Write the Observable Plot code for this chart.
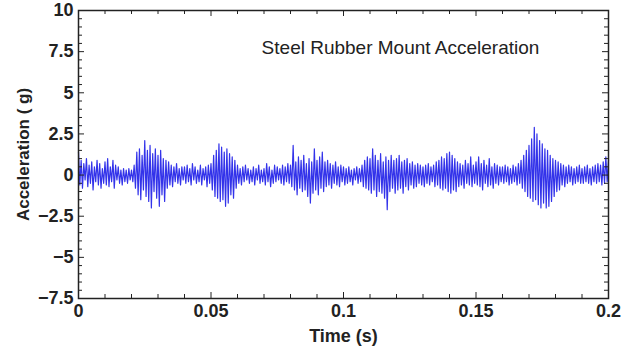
<!DOCTYPE html>
<html>
<head>
<meta charset="utf-8">
<script src="https://cdn.jsdelivr.net/npm/d3@7"></script>
<script src="https://cdn.jsdelivr.net/npm/@observablehq/plot@0.6"></script>
<style>
  html, body { margin: 0; padding: 0; background: #fff; }
</style>
</head>
<body>
<div id="chart"></div>
<script>
// ---- data ----
const titleText = "Steel Rubber Mount Acceleration";
const xLabel = "Time (s)";
const yLabel = "Acceleration ( g)";
const sampleStep = 0.0005; // s between samples
const accel = [
  // 0.00 - 0.0095
  1.4, -0.6, 0.9, -0.8, 0.7, -0.3, 1.0, -0.7, 0.6, -0.5, 0.8, -0.9, 0.5, -0.4, 0.9, -0.6, 0.7, -0.8, 0.4, -0.5,
  // 0.01
  0.8, -0.6, 1.0, -0.7, 0.5, -0.4, 0.9, -0.8, 0.6, -0.3, 0.5, -0.5, 0.3, -0.6, 0.4, -0.4, 0.3, -0.5, 0.4, -0.3,
  // 0.02
  0.3, -0.4, 0.6, -0.8, 1.4, -1.2, 1.6, -1.5, 1.2, -0.9, 2.1, -1.3, 1.5, -1.6, 1.8, -2.0, 1.3, -1.0, 1.6, -1.4,
  // 0.03
  1.2, -1.9, 1.5, -1.2, 1.0, -1.6, 0.9, -0.8, 0.8, -0.6, 0.6, -0.7, 0.5, -0.4, 0.7, -0.5, 0.4, -0.6, 0.5, -0.3,
  // 0.04
  0.5, -0.5, 0.6, -0.4, 0.4, -0.6, 0.7, -0.3, 0.5, -0.5, 0.3, -0.4, 0.6, -0.6, 0.4, -0.3, 0.5, -0.7, 0.6, -0.5,
  // 0.05
  0.7, -0.9, 1.2, -1.3, 1.5, -1.4, 1.9, -1.6, 1.7, -1.5, 1.4, -1.9, 1.6, -1.7, 1.3, -1.2, 1.1, -1.4, 0.9, -0.8,
  // 0.06
  0.6, -0.5, 0.4, -0.6, 0.5, -0.4, 0.6, -0.3, 0.4, -0.5, 0.3, -0.4, 0.5, -0.6, 0.4, -0.3, 0.6, -0.5, 0.3, -0.4,
  // 0.07
  0.4, -0.6, 0.7, -0.4, 0.5, -0.7, 0.3, -0.5, 0.6, -0.4, 0.5, -0.3, 0.4, -0.5, 0.6, -0.6, 0.5, -0.4, 0.7, -0.5,
  // 0.08
  0.6, -0.7, 1.8, -0.9, 0.8, -1.2, 1.1, -0.8, 0.9, -1.0, 1.2, -0.9, 0.7, -1.3, 1.0, -1.7, 0.8, -1.1, 1.6, -0.9,
  // 0.09
  0.9, -1.2, 1.1, -0.8, 1.4, -1.0, 0.8, -0.7, 0.9, -0.6, 0.7, -0.8, 0.6, -0.5, 0.8, -0.6, 0.5, -0.7, 0.6, -0.4,
  // 0.10
  0.5, -0.6, 0.4, -0.5, 0.5, -0.4, 0.3, -0.6, 0.4, -0.3, 0.5, -0.5, 0.4, -0.4, 0.6, -0.7, 0.9, -0.8, 1.1, -0.9,
  // 0.11
  1.0, -1.1, 1.6, -0.9, 1.2, -1.3, 0.9, -1.0, 1.3, -1.1, 0.8, -1.4, 1.1, -2.1, 0.9, -1.0, 1.2, -0.8, 0.9, -1.1,
  // 0.12
  1.0, -0.9, 1.2, -0.8, 0.8, -1.1, 0.9, -0.7, 1.0, -0.9, 0.7, -0.6, 0.8, -0.8, 0.6, -0.7, 0.7, -0.5, 0.6, -0.6,
  // 0.13
  0.5, -0.7, 0.6, -0.5, 0.7, -0.6, 0.5, -0.4, 0.6, -0.7, 0.8, -0.6, 0.9, -0.8, 1.1, -0.9, 1.0, -0.8, 1.3, -1.0,
  // 0.14
  1.4, -1.1, 1.2, -0.9, 1.0, -1.0, 0.8, -0.7, 0.7, -0.6, 0.6, -0.8, 0.9, -0.5, 0.7, -0.6, 1.1, -0.7, 0.6, -0.5,
  // 0.15
  0.8, -0.6, 1.1, -0.7, 0.7, -0.9, 0.9, -0.5, 0.6, -0.7, 1.0, -0.6, 0.5, -0.8, 0.7, -0.5, 0.6, -0.6, 0.5, -0.4,
  // 0.16
  0.5, -0.5, 0.6, -0.4, 0.5, -0.6, 0.4, -0.5, 0.6, -0.4, 0.5, -0.6, 0.7, -0.5, 0.9, -0.8, 1.2, -1.0, 1.5, -1.3,
  // 0.17
  1.8, -1.4, 2.2, -1.6, 2.9, -1.5, 2.5, -1.8, 2.1, -2.0, 1.9, -1.7, 1.6, -2.0, 1.5, -1.9, 1.2, -1.6, 1.0, -1.3,
  // 0.18
  0.9, -1.0, 0.8, -0.9, 0.7, -0.6, 0.6, -0.7, 0.5, -0.5, 0.6, -0.4, 0.5, -0.6, 0.4, -0.5, 0.5, -0.4, 0.6, -0.5,
  // 0.19 - 0.20
  0.4, -0.5, 0.5, -0.4, 0.6, -0.5, 0.4, -0.6, 0.5, -0.4, 0.6, -0.5, 0.7, -0.4, 0.6, -0.6, 0.8, -0.5, 1.1, -0.4, 0.9
];
const xMajorTicks = [0, 0.05, 0.1, 0.15, 0.2];
const xTickLabels = ["0", "0.05", "0.1", "0.15", "0.2"];
const xMinorTicks = [0.01, 0.02, 0.03, 0.04, 0.06, 0.07, 0.08, 0.09, 0.11, 0.12, 0.13, 0.14, 0.16, 0.17, 0.18, 0.19];
const yMajorTicks = [-7.5, -5, -2.5, 0, 2.5, 5, 7.5, 10];
const yTickLabels = ["\u22127.5", "\u22125", "\u22122.5", "0", "2.5", "5", "7.5", "10"];
const yMinorTicks = [-7, -6.5, -6, -5.5, -4.5, -4, -3.5, -3, -2, -1.5, -1, -0.5, 0.5, 1, 1.5, 2, 3, 3.5, 4, 4.5, 5.5, 6, 6.5, 7, 8, 8.5, 9, 9.5];

const series = accel.map((a, i) => ({t: i * sampleStep, a}));

// ---- layout ----
const W = 621, H = 348;
const mL = 78, mR = 13, mT = 10, mB = 50;
const innerW = W - mL - mR, innerH = H - mT - mB;
const majorLen = 6, minorLen = 4;
const ink = "#222";

const chart = Plot.plot({
  width: W,
  height: H,
  marginLeft: mL,
  marginRight: mR,
  marginTop: mT,
  marginBottom: mB,
  style: {fontFamily: "'Liberation Sans', Arial, sans-serif", fontSize: "18px", fontWeight: "bold", color: ink, background: "#fff", overflow: "visible"},
  x: {domain: [0, 0.2], ticks: xMajorTicks, tickSize: 0, tickPadding: 6, tickFormat: d => xTickLabels[xMajorTicks.indexOf(d)], label: null},
  y: {domain: [-7.5, 10], ticks: yMajorTicks, tickSize: 0, tickPadding: 5, tickFormat: d => yTickLabels[yMajorTicks.indexOf(d)], label: null},
  marks: [
    Plot.line(series, {x: "t", y: "a", stroke: "#3333ea", strokeWidth: 1.2}),
    // bottom ticks
    Plot.tickX(xMajorTicks, {x: d => d, insetTop: innerH - majorLen, stroke: ink, strokeWidth: 1}),
    Plot.tickX(xMinorTicks, {x: d => d, insetTop: innerH - minorLen, stroke: ink, strokeWidth: 1}),
    // top ticks
    Plot.tickX(xMajorTicks, {x: d => d, insetBottom: innerH - majorLen, stroke: ink, strokeWidth: 1}),
    Plot.tickX(xMinorTicks, {x: d => d, insetBottom: innerH - minorLen, stroke: ink, strokeWidth: 1}),
    // left ticks
    Plot.tickY(yMajorTicks, {y: d => d, insetRight: innerW - majorLen, stroke: ink, strokeWidth: 1}),
    Plot.tickY(yMinorTicks, {y: d => d, insetRight: innerW - minorLen, stroke: ink, strokeWidth: 1}),
    // right ticks
    Plot.tickY(yMajorTicks, {y: d => d, insetLeft: innerW - majorLen, stroke: ink, strokeWidth: 1}),
    Plot.tickY(yMinorTicks, {y: d => d, insetLeft: innerW - minorLen, stroke: ink, strokeWidth: 1}),
    Plot.frame({stroke: ink, strokeWidth: 1.5}),
    Plot.text([titleText], {frameAnchor: "top", dx: 57, dy: 30, fontSize: 19, fontWeight: "normal", fill: ink}),
    Plot.text([xLabel], {frameAnchor: "bottom", dy: 38, lineAnchor: "middle", textAnchor: "middle", fontSize: 18, fontWeight: "bold", fill: ink}),
    Plot.text([yLabel], {frameAnchor: "left", dx: -55, rotate: -90, textAnchor: "middle", lineAnchor: "middle", fontSize: 17, fontWeight: "bold", fill: ink})
  ]
});
document.getElementById("chart").appendChild(chart);
</script>
</body>
</html>
